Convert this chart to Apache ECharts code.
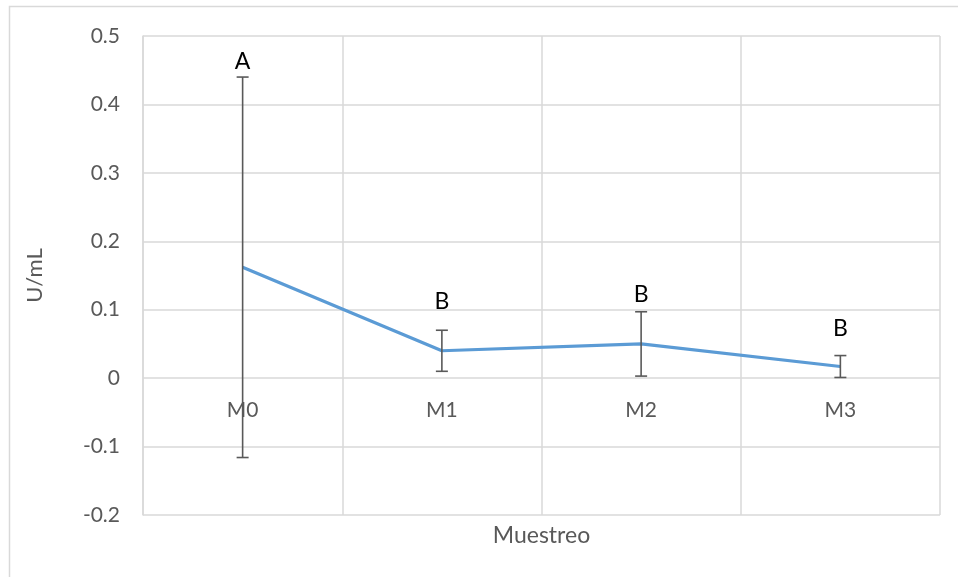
<!DOCTYPE html>
<html>
<head>
<meta charset="utf-8">
<script src="https://cdn.jsdelivr.net/npm/echarts@6/dist/echarts.min.js"></script>
<style>
  html, body { margin: 0; padding: 0; background: #fff; }
  #chart { width: 958px; height: 577px; }
</style>
</head>
<body>
<div id="chart"></div>
<script>
// Sampling points and mean activity (U/mL)
const categories = ['M0', 'M1', 'M2', 'M3'];
const means = [0.162, 0.040, 0.050, 0.017];
// Error bar half-widths
const errors = [0.278, 0.030, 0.047, 0.016];
// Significance letters and the value at which each is written
const letters = ['A', 'B', 'B', 'B'];
const letterY = [0.462, 0.112, 0.122, 0.073];
const yTicks = { min: -0.2, max: 0.5, interval: 0.1 };

const FONT = 'Lato, "Open Sans", sans-serif';
const GRID_COLOR = '#d9d9d9';
const TEXT_COLOR = '#595959';

const errorData = categories.map((c, i) => [i, means[i] - errors[i], means[i] + errors[i]]);
const letterData = categories.map((c, i) => [i, letterY[i]]);
// Category names sit just under the zero line
const catLabelData = categories.map((c, i) => [i, 0]);

const chart = echarts.init(document.getElementById('chart'), null, { renderer: 'canvas' });

chart.setOption({
  animation: false,
  backgroundColor: '#ffffff',
  textStyle: { fontFamily: FONT },
  grid: { left: 143, right: 18, top: 36, bottom: 62 },
  graphic: [
    {
      type: 'rect',
      shape: { x: 9.5, y: 6.5, width: 1000, height: 1000 },
      style: { fill: 'none', stroke: GRID_COLOR, lineWidth: 1.5 },
      silent: true
    }
  ],
  xAxis: {
    type: 'category',
    data: categories,
    boundaryGap: true,
    name: 'Muestreo',
    nameLocation: 'middle',
    nameGap: 9,
    nameTextStyle: { color: TEXT_COLOR, fontSize: 23, fontFamily: FONT },
    axisLine: { show: false },
    axisTick: { show: false },
    axisLabel: { show: false },
    splitLine: { show: true, lineStyle: { color: GRID_COLOR, width: 1.5 } }
  },
  yAxis: {
    type: 'value',
    min: yTicks.min,
    max: yTicks.max,
    interval: yTicks.interval,
    name: 'U/mL',
    nameLocation: 'middle',
    nameGap: 97,
    nameTextStyle: { color: TEXT_COLOR, fontSize: 22, fontFamily: FONT },
    axisLine: { show: true, lineStyle: { color: GRID_COLOR, width: 1.5 } },
    axisTick: { show: false },
    axisLabel: {
      color: TEXT_COLOR, fontSize: 21, margin: 23, align: 'right', fontFamily: FONT,
      formatter: v => String(Math.round(v * 10) / 10)
    },
    splitLine: { show: true, lineStyle: { color: GRID_COLOR, width: 1.5 } }
  },
  series: [
    {
      type: 'line',
      data: means,
      symbol: 'none',
      z: 3,
      lineStyle: { color: '#5b9bd5', width: 3.2 }
    },
    {
      type: 'custom',
      data: errorData,
      z: 4,
      renderItem: function (params, api) {
        const x = api.value(0);
        const lo = api.coord([x, api.value(1)]);
        const hi = api.coord([x, api.value(2)]);
        const cap = 6;
        const style = { stroke: '#595959', lineWidth: 1.6 };
        return {
          type: 'group',
          children: [
            { type: 'line', shape: { x1: lo[0], y1: lo[1], x2: hi[0], y2: hi[1] }, style },
            { type: 'line', shape: { x1: hi[0] - cap, y1: hi[1], x2: hi[0] + cap, y2: hi[1] }, style },
            { type: 'line', shape: { x1: lo[0] - cap, y1: lo[1], x2: lo[0] + cap, y2: lo[1] }, style }
          ]
        };
      }
    },
    {
      type: 'custom',
      data: catLabelData,
      z: 2,
      renderItem: function (params, api) {
        const p = api.coord([api.value(0), api.value(1)]);
        return {
          type: 'text',
          x: p[0],
          y: p[1] + 32,
          style: {
            text: categories[params.dataIndex],
            fill: TEXT_COLOR,
            font: '21px ' + FONT,
            textAlign: 'center',
            textVerticalAlign: 'middle'
          }
        };
      }
    },
    {
      type: 'custom',
      data: letterData,
      z: 5,
      renderItem: function (params, api) {
        const p = api.coord([api.value(0), api.value(1)]);
        return {
          type: 'text',
          x: p[0],
          y: p[1],
          style: {
            text: letters[params.dataIndex],
            fill: '#000000',
            font: '23px ' + FONT,
            textAlign: 'center',
            textVerticalAlign: 'middle'
          }
        };
      }
    }
  ]
});
</script>
</body>
</html>
